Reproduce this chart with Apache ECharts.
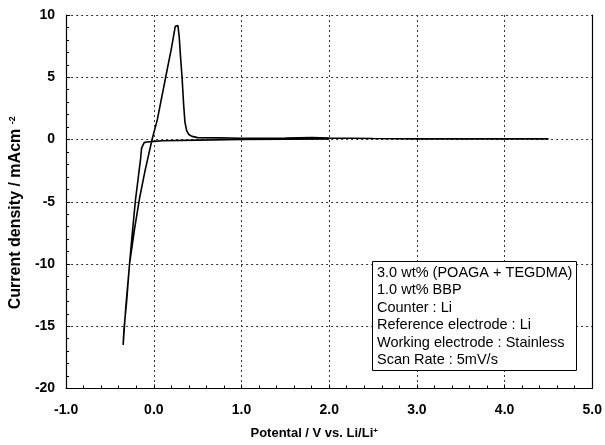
<!DOCTYPE html>
<html>
<head>
<meta charset="utf-8">
<script src="https://cdn.jsdelivr.net/npm/echarts@6/dist/echarts.min.js"></script>
<style>
  html, body { margin: 0; padding: 0; background: #fff; }
  #main { width: 605px; height: 445px; }
</style>
</head>
<body>
<div id="main"></div>
<script>
// potential (V vs Li/Li+) and current density (mA/cm2)
// cathodic sweep down to -0.35 V, then anodic sweep up to 4.5 V
var potential = [2.0, 1.5, 1.0, 0.5, 0.1, 0.0, -0.08, -0.11, -0.13, -0.14, -0.15, -0.18, -0.21, -0.245, -0.277, -0.31, -0.34, -0.35,
  -0.345, -0.32, -0.277, -0.22, -0.165, -0.1, -0.02, 0.04, 0.135, 0.2, 0.245, 0.26, 0.275, 0.29, 0.305, 0.322, 0.34, 0.355, 0.375, 0.4, 0.435, 0.5,
  0.75, 1.0, 1.5, 1.8, 2.0, 2.5, 3.0, 3.5, 4.0, 4.5];
var current = [0.05, 0.03, 0.0, -0.05, -0.1, -0.15, -0.2, -0.25, -0.4, -0.7, -1.5, -3.2, -4.9, -7.5, -10, -13, -15.2, -16.5,
  -16.0, -13.5, -10, -7.2, -4.8, -2.5, 0, 1.6, 5.0, 7.3, 9.1, 9.25, 9.15, 8.2, 6.6, 5.0, 2.8, 1.4, 0.7, 0.4, 0.25, 0.15,
  0.13, 0.1, 0.12, 0.15, 0.12, 0.08, 0.05, 0.05, 0.05, 0.05];

var notes = [
  '3.0 wt% (POAGA + TEGDMA)',
  '1.0 wt% BBP',
  'Counter : Li',
  'Reference electrode : Li',
  'Working electrode : Stainless',
  'Scan Rate : 5mV/s'
];

var cv = potential.map(function (v, i) { return [v, current[i]]; });

var font = 'Liberation Sans, Arial, sans-serif';
var gridLine = { show: true, lineStyle: { color: '#333', type: [2, 3], width: 1 } };

var myChart = echarts.init(document.getElementById('main'));

var option = {
  animation: false,
  backgroundColor: '#fff',
  grid: { left: 64, right: 8, top: 15, bottom: 55 },
  title: {
    text: notes.join('\n'),
    left: 372,
    top: 261,
    padding: [3, 4, 2, 5],
    borderColor: '#000',
    borderWidth: 1,
    backgroundColor: '#fff',
    textStyle: { fontFamily: font, fontSize: 14.5, fontWeight: 'normal', color: '#000', lineHeight: 17.5 }
  },
  xAxis: {
    type: 'value',
    min: -1, max: 5, interval: 1,
    name: 'Potental / V vs. Li/Li{s|+}',
    nameLocation: 'middle',
    nameGap: 38,
    nameTextStyle: {
      fontFamily: font, fontSize: 13, fontWeight: 'bold', color: '#000',
      padding: [0, 30, 0, 0],
      rich: { s: { fontSize: 8, fontWeight: 'bold', verticalAlign: 'top', padding: [0, 0, 6, 0] } }
    },
    axisLine: { onZero: false, lineStyle: { color: '#000', width: 1.2 } },
    axisTick: { inside: true, length: 4, lineStyle: { color: '#000' } },
    minorTick: { show: true, splitNumber: 5, length: 3, lineStyle: { color: '#000' } },
    axisLabel: {
      margin: 15, fontFamily: font, fontSize: 14, fontWeight: 'bold', color: '#000',
      formatter: function (v) { return v.toFixed(1); }
    },
    splitLine: gridLine
  },
  yAxis: [{
    type: 'value',
    min: -20, max: 10, interval: 5,
    name: 'Current density / mAcm {s|-2}',
    nameLocation: 'middle',
    nameGap: 38,
    nameTextStyle: {
      fontFamily: font, fontSize: 16, fontWeight: 'bold', color: '#000',
      padding: [0, 22, 0, 0],
      rich: { s: { fontSize: 9, fontWeight: 'bold', verticalAlign: 'top', padding: [0, 0, 7, 0] } }
    },
    axisLine: { onZero: false, lineStyle: { color: '#000', width: 1.2 } },
    axisTick: { inside: true, length: 4, lineStyle: { color: '#000' } },
    minorTick: { show: true, splitNumber: 5, length: 3, lineStyle: { color: '#000' } },
    axisLabel: { margin: 11, fontFamily: font, fontSize: 14, fontWeight: 'bold', color: '#000' },
    splitLine: gridLine
  }, {
    type: 'value',
    position: 'right',
    min: -20, max: 10, interval: 5,
    axisLine: { show: true, onZero: false, lineStyle: { color: '#000', width: 1.2 } },
    axisTick: { show: false },
    axisLabel: { show: false },
    splitLine: { show: false }
  }],
  series: [{
    type: 'line',
    data: cv,
    yAxisIndex: 0,
    showSymbol: false,
    smooth: false,
    lineStyle: { color: '#000', width: 1.6 },
    z: 3
  }]
};

myChart.setOption(option);
</script>
</body>
</html>
